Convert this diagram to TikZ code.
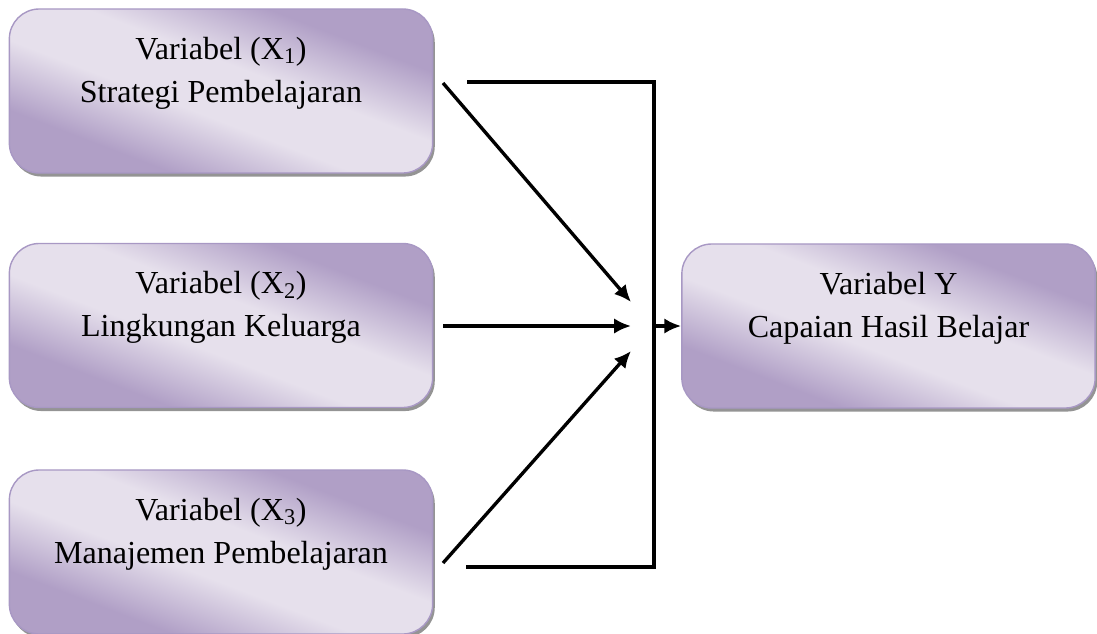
\documentclass[tikz,border=0pt]{standalone}
\usepackage{fontspec}
\setmainfont{Liberation Serif}
\usetikzlibrary{arrows.meta,shadows}
\definecolor{boxdark}{HTML}{B09FC6}
\definecolor{boxlight}{HTML}{E6E0EC}
\definecolor{boxline}{HTML}{A898C4}
\pgfdeclareverticalshading{boxshade}{100bp}{color(0bp)=(boxdark); color(30bp)=(boxdark);
  color(44bp)=(boxlight); color(56bp)=(boxlight); color(70bp)=(boxdark); color(100bp)=(boxdark)}
\tikzset{
  varbox/.style={rectangle,rounded corners=0.75cm,draw=boxline,line width=1pt,
    shading=boxshade,shading angle=-21,
    drop shadow={shadow xshift=1.5pt,shadow yshift=-2.5pt,fill=black!60,opacity=0.7},
    minimum width=10.58cm,minimum height=4.1cm,inner sep=0pt,align=center,
    font=\fontsize{22.8}{30.6}\selectfont},
  link/.style={line width=2.4pt}
}
\begin{document}
\begin{tikzpicture}[x=0.025cm,y=-0.025cm,>={Latex[length=12pt,width=11pt]}]
\useasboundingbox (0,0) rectangle (1097,633);
\node[varbox] (x1) at (221,91) {Variabel (X\textsubscript{1})\\Strategi Pembelajaran\\\mbox{}};
\node[varbox] (x2) at (221,325.5) {Variabel (X\textsubscript{2})\\Lingkungan Keluarga\\\mbox{}};
\node[varbox] (x3) at (221,552) {Variabel (X\textsubscript{3})\\Manajemen Pembelajaran\\\mbox{}};
\node[varbox,minimum width=10.33cm] (y) at (888.5,326) {Variabel Y\\Capaian Hasil Belajar\\\mbox{}};
% ujung panah
\coordinate (s1) at (443,83);
\coordinate (s2) at (443,326);
\coordinate (s3) at (443,563);
\coordinate (t1) at (631,302);
\coordinate (t2) at (631,326);
\coordinate (t3) at (631,351);
% kurung
\coordinate (b1) at (467,82);
\coordinate (b2) at (654,567);
\coordinate (b3) at (466,567);
\coordinate (j) at (654,326);
\draw[->,link](s1)--(t1);
\draw[->,link](s2)--(t2);
\draw[->,link](s3)--(t3);
\draw[link](b1)-|(b2)--(b3);
\draw[->,link](j)--(y.west);
\end{tikzpicture}
\end{document}
